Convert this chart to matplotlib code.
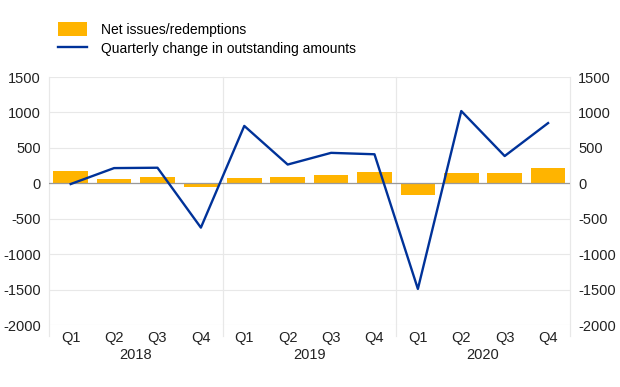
import matplotlib.pyplot as plt
from matplotlib.patches import Patch
from matplotlib.lines import Line2D

quarters = ["Q1", "Q2", "Q3", "Q4"] * 3
years = ["2018", "2019", "2020"]
net_issues = [170, 55, 95, -50, 70, 95, 120, 160, -170, 145, 140, 220]
outstanding_change = [-10, 215, 220, -625, 810, 265, 430, 410, -1490, 1020, 385, 850]

BAR_COLOR = "#FFB400"
LINE_COLOR = "#003299"
GRID_COLOR = "#e8e8e8"

plt.rcParams["font.family"] = ["Liberation Sans", "DejaVu Sans"]
plt.rcParams["font.size"] = 10.5
plt.rcParams["axes.unicode_minus"] = False

fig = plt.figure(figsize=(6.2, 3.87), dpi=100)
ax = fig.add_axes([0.079, 0.160, 0.840, 0.641])

x = list(range(len(net_issues)))
ax.bar(x, net_issues, width=0.8, color=BAR_COLOR, zorder=2)
ax.plot(x, outstanding_change, color=LINE_COLOR, linewidth=1.7, zorder=3)
ax.axhline(0, color="#999999", linewidth=0.9, zorder=2.5)

ax.set_xlim(-0.5, len(x) - 0.5)
ax.set_ylim(-2000, 1500)
ax.set_yticks(range(-2000, 1501, 500))
ax.grid(axis="y", color=GRID_COLOR, linewidth=0.8, zorder=0)
ax.set_axisbelow(True)

for s in ax.spines.values():
    s.set_visible(False)

# year boundaries and plot edges: light verticals that reach below the axis
trans = ax.get_xaxis_transform()
for b in [-0.5, 3.5, 7.5, 11.5]:
    ax.add_line(Line2D([b, b], [-0.045, 1.0], transform=trans, color=GRID_COLOR,
                       linewidth=0.9, clip_on=False, zorder=0))

ax.set_xticks(x)
ax.set_xticklabels(quarters)
ax.tick_params(axis="x", length=0, pad=4, labelsize=10.5, colors="#222222")
ax.tick_params(axis="y", length=0, pad=6, labelsize=10.5, colors="#222222")

for i, yr in enumerate(years):
    ax.text(4 * i + 1.5, -0.12, yr, transform=trans, ha="center", va="center",
            fontsize=10.5, color="#222222")

ax2 = ax.twinx()
ax2.set_ylim(ax.get_ylim())
ax2.set_yticks(range(-2000, 1501, 500))
ax2.tick_params(axis="y", length=0, pad=6, labelsize=10.5, colors="#222222")
for s in ax2.spines.values():
    s.set_visible(False)

handles = [Patch(facecolor=BAR_COLOR, edgecolor="none"),
           Line2D([], [], color=LINE_COLOR, linewidth=1.7)]
labels = ["Net issues/redemptions", "Quarterly change in outstanding amounts"]
fig.legend(handles, labels, loc="upper left", bbox_to_anchor=(0.085, 0.957),
           frameon=False, fontsize=10, handlelength=2.1, handleheight=1.1,
           labelspacing=0.35, handletextpad=1.0, borderaxespad=0)

fig.savefig("out.png", dpi=100)
plt.close(fig)
